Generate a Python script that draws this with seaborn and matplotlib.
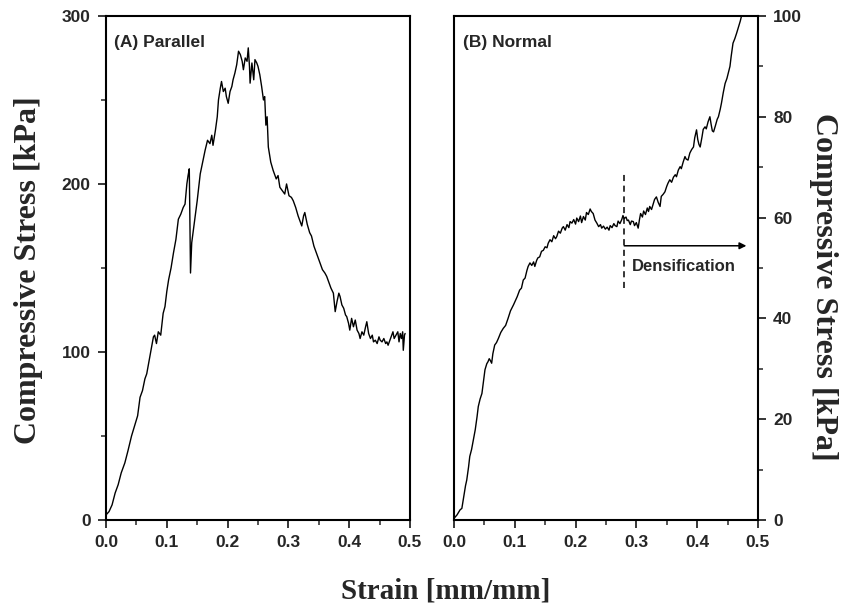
import numpy as np
import pandas as pd
import matplotlib
matplotlib.use("Agg")
import matplotlib.pyplot as plt
from matplotlib.ticker import MultipleLocator
import seaborn as sns

# (A) Parallel - strain / stress [kPa]
par_strain = [0.000, 0.005, 0.010, 0.015, 0.020, 0.025, 0.031, 0.036, 0.042, 0.047,
              0.052, 0.056, 0.060, 0.064, 0.067, 0.071, 0.075, 0.078, 0.080, 0.083,
              0.086, 0.090, 0.094, 0.097, 0.100, 0.103, 0.107, 0.111, 0.115, 0.119,
              0.123, 0.127, 0.130, 0.133, 0.135, 0.137, 0.138, 0.139, 0.141, 0.145,
              0.150, 0.155, 0.159, 0.163, 0.167, 0.171, 0.174, 0.176, 0.180, 0.183,
              0.185, 0.188, 0.190, 0.193, 0.196, 0.198, 0.201, 0.204, 0.207, 0.209,
              0.212, 0.215, 0.218, 0.221, 0.224, 0.226, 0.229, 0.232, 0.234, 0.236,
              0.237, 0.240, 0.243, 0.245, 0.248, 0.250, 0.253, 0.256, 0.259, 0.261,
              0.263, 0.265, 0.267, 0.271, 0.275, 0.280, 0.283, 0.286, 0.290, 0.294,
              0.297, 0.301, 0.305, 0.308, 0.312, 0.316, 0.319, 0.322, 0.325, 0.327,
              0.331, 0.335, 0.338, 0.342, 0.346, 0.349, 0.352, 0.356, 0.360, 0.363,
              0.367, 0.370, 0.374, 0.377, 0.380, 0.383, 0.385, 0.388, 0.391, 0.394,
              0.396, 0.399, 0.401, 0.404, 0.407, 0.410, 0.413, 0.416, 0.418, 0.421,
              0.424, 0.427, 0.429, 0.432, 0.435, 0.438, 0.440, 0.443, 0.446, 0.449,
              0.451, 0.454, 0.457, 0.460, 0.462, 0.464, 0.467, 0.470, 0.472, 0.474,
              0.477, 0.480, 0.482, 0.484, 0.486, 0.488, 0.489, 0.491, 0.492]
par_stress = [3, 5, 9, 16, 21, 28, 34, 41, 50, 56,
              62, 73, 77, 84, 87, 95, 103, 109, 110, 105,
              112, 110, 123, 127, 136, 143, 150, 159, 167, 179,
              182, 186, 188, 200, 205, 209, 180, 147, 165, 176,
              190, 206, 213, 220, 226, 224, 229, 223, 232, 240,
              250, 257, 261, 255, 257, 252, 248, 255, 258, 262,
              266, 271, 279, 277, 273, 268, 275, 273, 281, 270,
              260, 272, 262, 274, 272, 270, 265, 258, 250, 252,
              235, 240, 222, 213, 208, 203, 205, 198, 196, 194,
              200, 193, 192, 190, 186, 181, 178, 175, 181, 183,
              176, 171, 169, 163, 159, 156, 153, 149, 147, 145,
              141, 138, 135, 124, 130, 135, 133, 128, 126, 122,
              121, 117, 113, 120, 115, 119, 113, 111, 108, 112,
              110, 115, 118, 111, 108, 110, 106, 107, 105, 109,
              107, 106, 108, 105, 106, 104, 107, 110, 112, 108,
              110, 112, 106, 111, 108, 112, 101, 110, 111]

# (B) Normal - strain / stress [kPa]
nor_strain = [0.000, 0.005, 0.010, 0.013, 0.016, 0.019, 0.021, 0.024, 0.026, 0.029,
              0.032, 0.035, 0.038, 0.040, 0.043, 0.046, 0.048, 0.051, 0.054, 0.056,
              0.058, 0.060, 0.062, 0.064, 0.067, 0.070, 0.073, 0.077, 0.081, 0.085,
              0.089, 0.093, 0.098, 0.101, 0.104, 0.108, 0.111, 0.114, 0.117, 0.120,
              0.122, 0.125, 0.128, 0.131, 0.133, 0.136, 0.138, 0.141, 0.144, 0.147,
              0.150, 0.153, 0.155, 0.158, 0.161, 0.164, 0.167, 0.169, 0.172, 0.175,
              0.178, 0.180, 0.183, 0.186, 0.189, 0.191, 0.194, 0.197, 0.200, 0.202,
              0.205, 0.208, 0.210, 0.213, 0.216, 0.218, 0.221, 0.224, 0.226, 0.229,
              0.232, 0.235, 0.238, 0.241, 0.243, 0.246, 0.249, 0.252, 0.255, 0.257,
              0.260, 0.263, 0.265, 0.268, 0.270, 0.273, 0.276, 0.278, 0.280, 0.283,
              0.285, 0.287, 0.290, 0.292, 0.295, 0.297, 0.300, 0.303, 0.305, 0.307,
              0.310, 0.312, 0.315, 0.318, 0.320, 0.322, 0.325, 0.328, 0.330, 0.333,
              0.336, 0.339, 0.341, 0.344, 0.347, 0.350, 0.352, 0.355, 0.358, 0.361,
              0.364, 0.366, 0.369, 0.372, 0.374, 0.377, 0.380, 0.382, 0.385, 0.388,
              0.391, 0.394, 0.396, 0.399, 0.401, 0.403, 0.405, 0.408, 0.410, 0.413,
              0.415, 0.418, 0.421, 0.423, 0.425, 0.427, 0.430, 0.433, 0.435, 0.438,
              0.440, 0.443, 0.446, 0.449, 0.452, 0.454, 0.456, 0.459, 0.462, 0.465,
              0.468, 0.471, 0.474, 0.476]
nor_stress = [0.3, 1.0, 2.0, 2.3, 4.5, 6.8, 7.9, 10.5, 12.6, 14.0,
              16.0, 17.9, 20.5, 22.5, 24.0, 25.1, 27.0, 29.8, 31.0, 31.4,
              32.0, 31.6, 31.1, 33.0, 34.7, 35.2, 36.0, 37.2, 38.0, 38.6,
              40.0, 41.5, 42.7, 43.5, 44.3, 45.6, 46.0, 47.6, 48.0, 49.5,
              50.3, 51.0, 50.5, 51.2, 50.3, 51.5, 52.0, 52.2, 53.3, 53.5,
              54.2, 54.0, 54.9, 55.6, 55.2, 56.4, 55.8, 56.2, 57.3, 56.9,
              57.9, 58.2, 57.5, 58.6, 58.0, 59.2, 58.9, 59.6, 58.7, 59.9,
              59.2, 60.3, 59.0, 60.2, 59.5, 61.0, 60.6, 61.7, 61.2, 60.8,
              59.5, 58.9, 58.2, 58.6, 57.9, 58.3, 57.7, 58.1, 57.5, 58.4,
              58.0, 58.8, 58.4, 58.2, 59.3, 58.8, 59.6, 60.4, 59.8, 60.1,
              59.4, 59.5, 58.6, 59.3, 59.2, 58.4, 59.0, 57.9, 59.5, 60.8,
              60.1, 61.3, 60.6, 61.9, 61.2, 62.2, 61.6, 62.8, 63.6, 64.1,
              63.0, 62.2, 64.2, 64.6, 65.1, 66.2, 66.8, 67.5, 67.0, 68.0,
              68.5, 68.1, 69.4, 70.1, 69.7, 71.0, 72.1, 71.6, 71.4, 72.8,
              73.5, 74.0, 75.8, 77.4, 75.5, 74.5, 74.0, 76.0, 77.5, 78.0,
              77.6, 79.0, 80.0, 78.5, 77.2, 77.0, 78.2, 79.5, 80.0, 81.5,
              82.7, 84.8, 86.6, 87.6, 89.0, 90.0, 92.0, 94.6, 95.5, 96.6,
              97.8, 99.0, 100.5, 102.0]

dens_strain = 0.28
dens_range = [46, 69]

sns.set_style("ticks")
plt.rcParams['font.family'] = ['Liberation Sans', 'DejaVu Sans']
plt.rcParams['axes.linewidth'] = 1.5
plt.rcParams['xtick.major.width'] = 1.3
plt.rcParams['ytick.major.width'] = 1.3
plt.rcParams['xtick.minor.width'] = 1.1
plt.rcParams['ytick.minor.width'] = 1.1

df_a = pd.DataFrame({'strain': par_strain, 'stress': par_stress})
df_b = pd.DataFrame({'strain': nor_strain, 'stress': nor_stress})

fig = plt.figure(figsize=(8.46, 6.11), dpi=100)
ax1 = fig.add_axes([0.1253, 0.149, 0.3593, 0.8249])
ax2 = fig.add_axes([0.5366, 0.149, 0.3593, 0.8249])

sns.lineplot(data=df_a, x='strain', y='stress', ax=ax1, color='black',
             linewidth=1.0, estimator=None, sort=False)
sns.lineplot(data=df_b, x='strain', y='stress', ax=ax2, color='black',
             linewidth=1.0, estimator=None, sort=False)

for ax in (ax1, ax2):
    ax.set_xlim(0, 0.5)
    ax.set_xlabel('')
    ax.set_ylabel('')
    ax.xaxis.set_major_locator(MultipleLocator(0.1))
    ax.xaxis.set_minor_locator(MultipleLocator(0.05))
    ax.tick_params(which='major', direction='out', length=6, pad=5,
                   labelsize=12.5)
    ax.tick_params(which='minor', direction='out', length=3.5)
    for s in ax.spines.values():
        s.set_visible(True)
        s.set_color('black')
    for lab in ax.get_xticklabels() + ax.get_yticklabels():
        lab.set_fontweight('bold')
    ax.xaxis.set_major_formatter(matplotlib.ticker.FormatStrFormatter('%.1f'))

ax1.set_ylim(0, 300)
ax1.yaxis.set_major_locator(MultipleLocator(100))
ax1.yaxis.set_minor_locator(MultipleLocator(50))
ax1.tick_params(axis='both', which='both', top=False, right=False)

ax2.set_ylim(0, 100)
ax2.yaxis.set_major_locator(MultipleLocator(20))
ax2.yaxis.set_minor_locator(MultipleLocator(10))
ax2.yaxis.tick_right()
ax2.tick_params(axis='both', which='both', top=False, left=False)

for ax in (ax1, ax2):
    for lab in ax.get_xticklabels() + ax.get_yticklabels():
        lab.set_fontweight('bold')

ax1.text(0.026, 0.948, '(A) Parallel', transform=ax1.transAxes,
         fontsize=12.5, fontweight='bold', va='center', ha='left')
ax2.text(0.03, 0.948, '(B) Normal', transform=ax2.transAxes,
         fontsize=12.5, fontweight='bold', va='center', ha='left')

ax2.plot([dens_strain, dens_strain], dens_range, color='black',
         linestyle=(0, (4, 3)), linewidth=1.1)
ax2.annotate('', xy=(0.481, 54.4), xytext=(dens_strain, 54.4),
             arrowprops=dict(arrowstyle='-|>', color='black', lw=1.1,
                             mutation_scale=10, shrinkA=0, shrinkB=0))
ax2.text(0.292, 50.3, 'Densification', fontsize=12, fontweight='bold',
         va='center', ha='left')

serif = ['Liberation Serif', 'DejaVu Serif']
fig.text(446 / 846, 0.032, 'Strain [mm/mm]', family=serif, fontsize=21,
         fontweight='bold', ha='center', va='center')
fig.text(29 / 846, 0.558, 'Compressive Stress [kPa]', family=serif,
         fontsize=23, fontweight='bold', rotation=90, ha='center', va='center')
fig.text(823 / 846, 0.53, 'Compressive Stress [kPa]', family=serif,
         fontsize=23, fontweight='bold', rotation=270, ha='center', va='center')

fig.savefig('out.png', dpi=100, facecolor='white')
